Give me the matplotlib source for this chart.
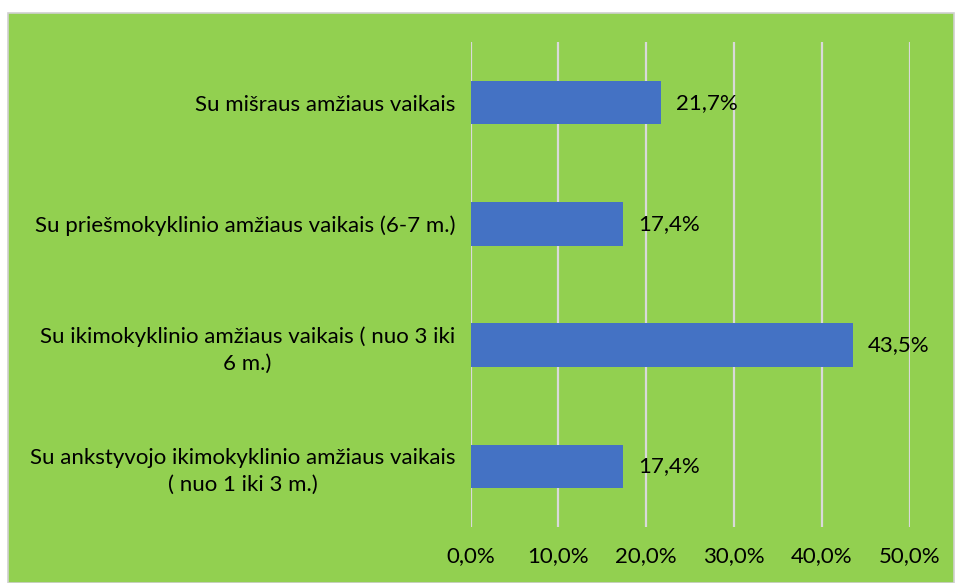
import matplotlib
matplotlib.use("Agg")
import matplotlib.pyplot as plt
from matplotlib.patches import Rectangle
from matplotlib.ticker import FuncFormatter

categories = [
    "Su ankstyvojo ikimokyklinio amžiaus vaikais\n( nuo 1 iki 3 m.)",
    "Su ikimokyklinio amžiaus vaikais ( nuo 3 iki\n6 m.)",
    "Su priešmokyklinio amžiaus vaikais (6-7 m.)",
    "Su mišraus amžiaus vaikais",
]
values = [17.4, 43.5, 17.4, 21.7]
xticks = [0, 10, 20, 30, 40, 50]

plt.rcParams['font.family'] = ['Lato', 'DejaVu Sans']
FS = 16

W, H = 956, 583
fig = plt.figure(figsize=(W / 100, H / 100), dpi=100)
fig.patch.set_facecolor('white')

green = '#92D050'
bg = Rectangle((8 / W, 0), (954 - 8) / W, (H - 13) / H, transform=fig.transFigure,
               facecolor=green, edgecolor='#D0D0D0', linewidth=1.2, zorder=-10)
fig.patches.append(bg)

ax = fig.add_axes([470.5 / W, 1 - 527 / H, (909.7 - 470.5) / W, (527 - 42) / H])
ax.set_zorder(5)
ax.set_facecolor('none')
ypos = list(range(len(categories)))
ax.barh(ypos, values, height=0.36, color='#4472C4', zorder=3)
ax.set_xlim(0, 50)
ax.set_ylim(-0.5, len(categories) - 0.5)
ax.set_xticks(xticks)
ax.xaxis.set_major_formatter(FuncFormatter(lambda v, p: f"{v:.1f}%".replace('.', ',')))
ax.grid(axis='x', color='#D9D9D9', linewidth=1.6, zorder=1)
ax.grid(axis='y', visible=False)
ax.set_axisbelow(True)
for s in ax.spines.values():
    s.set_visible(False)
ax.tick_params(axis='both', length=0, labelsize=FS, colors='black')
ax.tick_params(axis='x', pad=14)
ax.tick_params(axis='y', pad=11)
ax.set_yticks(ypos)
ax.set_yticklabels(categories, multialignment='center', linespacing=1.4)

for y, v in zip(ypos, values):
    ax.annotate(f"{v:.1f}%".replace('.', ','), (v, y), xytext=(11, 0),
                textcoords='offset points', va='center', ha='left', fontsize=FS,
                zorder=4)

fig.savefig('out.png', dpi=100)
